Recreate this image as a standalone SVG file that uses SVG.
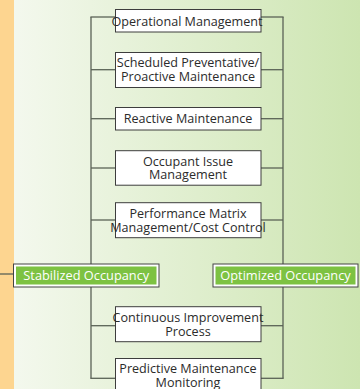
<svg xmlns="http://www.w3.org/2000/svg" width="360" height="389" viewBox="0 0 360 389">
<defs>
<linearGradient id="bg" x1="0" y1="0" x2="1" y2="0">
<stop offset="0" stop-color="#F5F9F0"/>
<stop offset="1" stop-color="#CDE5B1"/>
</linearGradient>
<style>
.box rect{fill:#fff;stroke:#3d3d3d;stroke-width:1}
.box text{font-family:"Open Sans","Liberation Sans",sans-serif;font-size:12.6px;fill:#2b2b2b;text-anchor:middle}
.occ .outer{fill:#fff;stroke:#444;stroke-width:1}
.occ .inner{fill:#7DC242}
.occ text{font-family:"Open Sans","Liberation Sans",sans-serif;font-size:12.8px;fill:#fff;text-anchor:middle}
#connectors line{stroke:#5a6256;stroke-width:1.3;fill:none}
</style>
</defs>
<rect x="0" y="0" width="360" height="389" fill="url(#bg)"/>
<rect x="0" y="0" width="14" height="389" fill="#FDD590"/>
<g id="connectors">
<line x1="91" y1="17" x2="91" y2="378.5"/>
<line x1="283" y1="17" x2="283" y2="378.5"/>
<line x1="90.4" y1="17" x2="115" y2="17"/>
<line x1="261" y1="17" x2="283.6" y2="17"/>
<line x1="91" y1="69.7" x2="115" y2="69.7"/>
<line x1="261" y1="69.7" x2="283" y2="69.7"/>
<line x1="91" y1="118.7" x2="115" y2="118.7"/>
<line x1="261" y1="118.7" x2="283" y2="118.7"/>
<line x1="91" y1="168" x2="115" y2="168"/>
<line x1="261" y1="168" x2="283" y2="168"/>
<line x1="91" y1="220" x2="115" y2="220"/>
<line x1="261" y1="220" x2="283" y2="220"/>
<line x1="91" y1="325.7" x2="115" y2="325.7"/>
<line x1="261" y1="325.7" x2="283" y2="325.7"/>
<line x1="90.4" y1="378.3" x2="115" y2="378.3"/>
<line x1="261" y1="378.3" x2="283.6" y2="378.3"/>
<line x1="0" y1="274" x2="13.5" y2="274"/>
</g>
<g id="n1" class="box"><rect x="115.5" y="9.5" width="145.5" height="22.5"/><text x="187" y="25.5">Operational Management</text></g>
<g id="n2" class="box"><rect x="115.5" y="52.5" width="145.5" height="35"/><text x="188" y="67.4">Scheduled Preventative/</text><text x="188" y="80.9">Proactive Maintenance</text></g>
<g id="n3" class="box"><rect x="115.5" y="107.5" width="145.5" height="22.5"/><text x="188" y="123.4">Reactive Maintenance</text></g>
<g id="n4" class="box"><rect x="115.5" y="150.7" width="145.5" height="34.5"/><text x="188" y="165.8">Occupant Issue</text><text x="188" y="179.3">Management</text></g>
<g id="n5" class="box"><rect x="115.5" y="202.7" width="145.5" height="35"/><text x="188" y="218.1">Performance Matrix</text><text x="188" y="231.6">Management/Cost Control</text></g>
<g id="n6" class="box"><rect x="115.5" y="306.7" width="145.5" height="35"/><text x="188" y="322.1">Continuous Improvement</text><text x="188" y="335.6">Process</text></g>
<g id="n7" class="box"><rect x="115.5" y="358.5" width="145.5" height="35"/><text x="188" y="373.3">Predictive Maintenance</text><text x="188" y="386.6">Monitoring</text></g>
<g id="stabilized" class="occ"><rect class="outer" x="13.5" y="264" width="145.5" height="23"/><rect class="inner" x="16" y="266.5" width="140.5" height="18"/><text x="86.3" y="279.8">Stabilized Occupancy</text></g>
<g id="optimized" class="occ"><rect class="outer" x="213" y="264" width="145" height="23"/><rect class="inner" x="215.5" y="266.5" width="140" height="18"/><text x="285.5" y="279.8">Optimized Occupancy</text></g>
</svg>
